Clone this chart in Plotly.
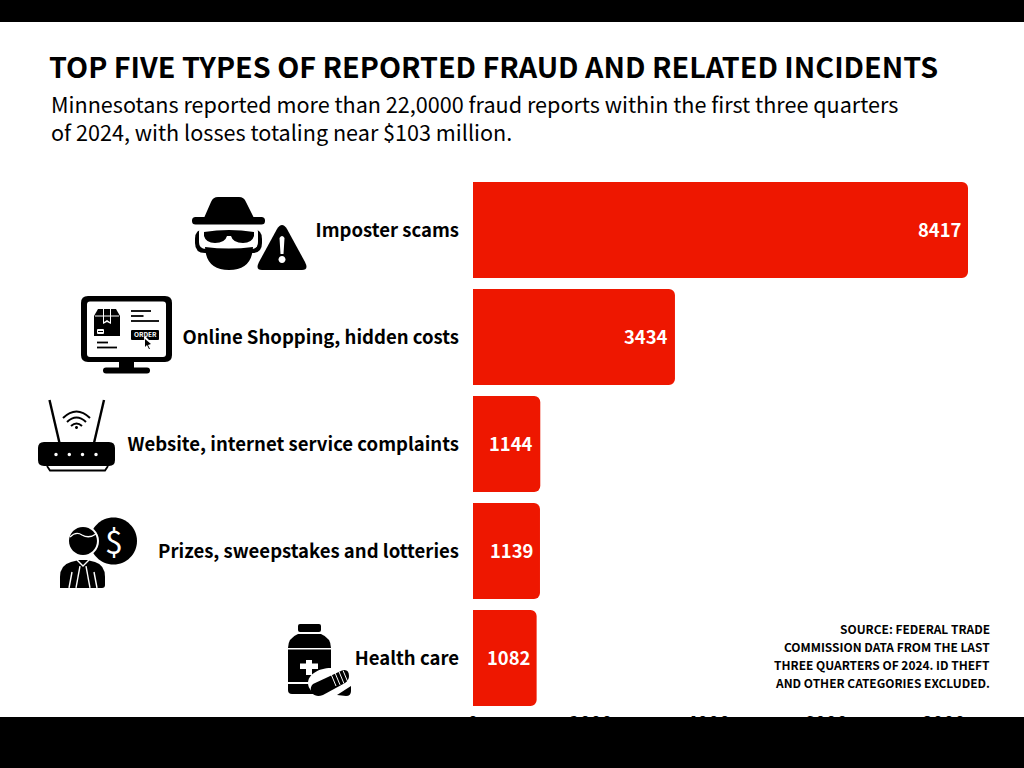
import re
import math
import plotly.graph_objects as go

categories = ["Imposter scams", "Online Shopping, hidden costs",
              "Website, internet service complaints",
              "Prizes, sweepstakes and lotteries", "Health care"]
values = [8417, 3434, 1144, 1139, 1082]
x_ticks = [0, 2000, 4000, 6000, 8000]
title = "TOP FIVE TYPES OF REPORTED FRAUD AND RELATED INCIDENTS"
subtitle = ["Minnesotans reported more than 22,0000 fraud reports within the first three quarters",
            "of 2024, with losses totaling near $103 million."]
source = ["SOURCE: FEDERAL TRADE", "COMMISSION DATA FROM THE LAST",
          "THREE QUARTERS OF 2024. ID THEFT", "AND OTHER CATEGORIES EXCLUDED."]

W, H = 1024, 768
FONT = "Noto Sans CJK SC"
RED = "#EE1700"
BLACK = "#000000"


def conv(path):
    toks = re.findall(r"[MLCQZ]|-?\d+\.?\d*", path)
    out, isx = [], True
    for t in toks:
        if t in "MLCQZ":
            out.append(t)
            isx = True
        else:
            v = float(t)
            out.append(f"{v / W:.5f}" if isx else f"{1 - v / H:.5f}")
            isx = not isx
    s, i = "", 0
    while i < len(out):
        if out[i] in "MLCQZ":
            s += out[i]
            i += 1
        else:
            s += out[i] + "," + out[i + 1] + " "
            i += 2
    return s


shapes = []


def fill(path, color=BLACK):
    shapes.append(dict(type="path", xref="paper", yref="paper", path=conv(path),
                       fillcolor=color, line=dict(width=0), layer="above"))


def stroke(path, width, color=BLACK):
    shapes.append(dict(type="path", xref="paper", yref="paper", path=conv(path),
                       line=dict(width=width, color=color), layer="above"))


def rrect(x0, y0, x1, y1, r):
    return (f"M{x0 + r} {y0} L{x1 - r} {y0} Q{x1} {y0} {x1} {y0 + r} L{x1} {y1 - r} "
            f"Q{x1} {y1} {x1 - r} {y1} L{x0 + r} {y1} Q{x0} {y1} {x0} {y1 - r} "
            f"L{x0} {y0 + r} Q{x0} {y0} {x0 + r} {y0} Z")


def ell(cx, cy, rx, ry=None):
    ry = rx if ry is None else ry
    k = 0.5523
    return (f"M{cx - rx} {cy} C{cx - rx} {cy - k * ry} {cx - k * rx} {cy - ry} {cx} {cy - ry} "
            f"C{cx + k * rx} {cy - ry} {cx + rx} {cy - k * ry} {cx + rx} {cy} "
            f"C{cx + rx} {cy + k * ry} {cx + k * rx} {cy + ry} {cx} {cy + ry} "
            f"C{cx - k * rx} {cy + ry} {cx - rx} {cy + k * ry} {cx - rx} {cy} Z")


# --- spy icon
fill(rrect(192, 217, 265, 224.5, 3.5))
fill("M204 218 L211 202 Q213 197 218 197 L239 197 Q244 197 246 202 L254 218 Z")
fill(rrect(195, 229, 262, 253, 10))
fill(rrect(199, 225, 258, 249, 7), "#FFFFFF")
fill("M204 232 Q229 228 254 232 L254 236 Q252 243 243 243 Q233 243 231 236 L227 236 Q225 243 215 243 Q206 243 204 236 Z")
fill("M205 247 Q229 250 253 247 Q252 270 229 270 Q206 270 205 247 Z")
# warning triangle
fill("M277 229 Q282 221 287 229 L305 262 Q309 270 302 270 L262 270 Q255 270 259 262 Z")
fill("M279.5 238 Q282 234 284.5 238 L283.5 254 L280.5 254 Z", "#FFFFFF")
fill(ell(282, 259.5, 3.5), "#FFFFFF")

# --- monitor icon
fill(rrect(81, 296, 172, 362, 7))
fill(rrect(87, 301.5, 166, 357, 3), "#FFFFFF")
fill("M119 361 L134 361 L134 368 L119 368 Z")
fill(rrect(103, 367.5, 150, 373.5, 3))
fill("M98 309 L116 309 L120 316 L120 336 L94 336 L94 316 Z")
fill("M95 315.5 L119 315.5 L119 316.5 L95 316.5 Z", "#FFFFFF")
fill("M103 309 L104 309 L104 322 L107 320 L110 322 L110 309 L111 309 L111 324 L107 322 L103 324 Z", "#FFFFFF")
fill(rrect(97, 329, 104, 334, 1), "#FFFFFF")
fill("M98 331 L103 331 L103 332 L98 332 Z")
for x0, x1, y in [(131, 151, 311), (131, 143.5, 316), (131, 159, 321), (97, 108, 342.5), (97, 117, 347.5)]:
    fill(f"M{x0} {y - 0.9} L{x1} {y - 0.9} L{x1} {y + 0.9} L{x0} {y + 0.9} Z")
fill(rrect(131, 330, 159, 340, 1))
fill("M144 337 L146 337 L153 344 L149 345 L151 349 L149 350 L147 346 L145 348 Z", "#FFFFFF")
fill("M145 339 L151 344 L148 345 L150 349 L149 349 L147 345 L145 347 Z")

# --- router icon
stroke("M49.5 400 L59.5 443", 2.4)
stroke("M104 400 L94 443", 2.4)
fill(rrect(38, 442, 115, 466, 6))
for x in [56, 69.3, 82.5, 96]:
    fill(ell(x, 454.5, 1.7), "#FFFFFF")
stroke("M47 466 L50 470.5 L105 470.5 L108 466", 1.8)
stroke("M63 418 Q76.5 405 90 418", 2)
stroke("M67 422 Q76.5 413 86 422", 2)
stroke("M71 426 Q76.5 421 82 426", 2)
fill(ell(76.5, 427.5, 1.5))

# --- person and coin icon
fill(ell(113.5, 541, 23.5))
fill(ell(83, 541, 16), "#FFFFFF")
fill(ell(83, 541, 14))
stroke("M70 537 Q76 531 82 535 Q89 539 96 534", 1.4, "#FFFFFF")
fill("M60 588 L60 577 Q60 565 71 562 L79 560 L87 560 L95 562 Q105 565 105 577 L105 585 Q105 588 102 588 Z")
stroke("M69 588 L72 572", 1.4, "#FFFFFF")
stroke("M97 588 L94 572", 1.4, "#FFFFFF")
stroke("M77 560 L83 566 L89 560", 1.4, "#FFFFFF")
stroke("M80 566 L76 588", 1.4, "#FFFFFF")
stroke("M86 566 L90 588", 1.4, "#FFFFFF")

# --- medicine icon
fill(rrect(298, 624, 321, 632, 2))
fill("M298 634 L321 634 Q331 638 331 648 L288 648 Q288 638 298 634 Z")
fill("M288 649.5 L331 649.5 L331 682 L288 682 Z")
fill("M288 684 L331 684 L331 694 L292 694 Q288 694 288 690 Z")
fill("M306 660 L312 660 L312 663.5 L318 663.5 L318 669 L312 669 L312 675 L306 675 L306 669 L300 669 L300 663.5 L306 663.5 Z", "#FFFFFF")
fill(ell(331, 683, 23, 15), "#FFFFFF")
fill("M313 684 L343 670 Q349 669 349 676 Q349 680 345 683 L323 695 Q314 698 311 691 Q310 687 313 684 Z")
fill("M337 695 L351 686 L351 691 Q351 696 346 696 Z")
fill("M326 695 L331 696 L338 696 L331 696 Z")
for off in [0, 4, 8, 12]:
    stroke(f"M{331 + off} {674 - off * 0.3} L{336 + off} {686 - off * 0.3}", 1, "#FFFFFF")

# --- black bands on top of the page, hiding the axis labels
fill(f"M0 0 L{W} 0 L{W} 22 L0 22 Z")
fill(f"M0 717 L{W} 717 L{W} {H} L0 {H} Z")

annotations = []


def note(text, x, y, size, weight=400, anchor="left", color=BLACK):
    annotations.append(dict(text=text, x=x / W, y=1 - y / H, xref="paper", yref="paper",
                            xanchor=anchor, yanchor="middle", showarrow=False,
                            font=dict(family=FONT, size=size, weight=weight, color=color)))


note(title, 46.7, 65.5, 28.7, 700)
note(subtitle[0], 48.6, 103, 21.6)
note(subtitle[1], 48.6, 131.5, 21.6)
for i, line in enumerate(source):
    note(line, 992, 628.6 + i * 18, 11.95, 700, "right")
note("$", 113.5, 540, 32, 400, "center", "#FFFFFF")
note("ORDER", 145, 334, 6.5, 700, "center", "#FFFFFF")
for c, v in zip(categories, values):
    annotations.append(dict(text=str(v), x=v, y=c, xref="x", yref="y", xanchor="right",
                            xshift=-4.8, yshift=1, yanchor="middle", showarrow=False,
                            font=dict(family=FONT, size=18.4, weight=700, color="#FFFFFF")))

PX_PER_UNIT = 495 / 8417
fig = go.Figure(go.Bar(x=values, y=categories, orientation="h", marker=dict(color=RED, line=dict(width=0), cornerradius=6),
                       hoverinfo="skip"))
fig.update_layout(
    width=W, height=H, margin=dict(l=0, r=0, t=0, b=0, autoexpand=False), paper_bgcolor="#FFFFFF",
    plot_bgcolor="#FFFFFF", showlegend=False, bargap=0.103, shapes=shapes, annotations=annotations,
    xaxis=dict(domain=[473 / W, 1], range=[0, (W - 473) / PX_PER_UNIT], tickvals=x_ticks,
               showgrid=False, zeroline=False, showline=False, ticks="", ticklabelstandoff=-1,
               tickfont=dict(family=FONT, size=18.5, weight=700, color=BLACK)),
    yaxis=dict(domain=[1 - 711.5 / H, 1 - 176.5 / H], autorange="reversed", showgrid=False,
               zeroline=False, showline=False, ticks="", ticklabelstandoff=13,
               tickfont=dict(family=FONT, size=18.55, weight=700, color=BLACK)),
)
fig.write_html("out.html", config=dict(displayModeBar=False),
               post_script="document.body.style.margin='0';document.documentElement.style.overflow='hidden';")
